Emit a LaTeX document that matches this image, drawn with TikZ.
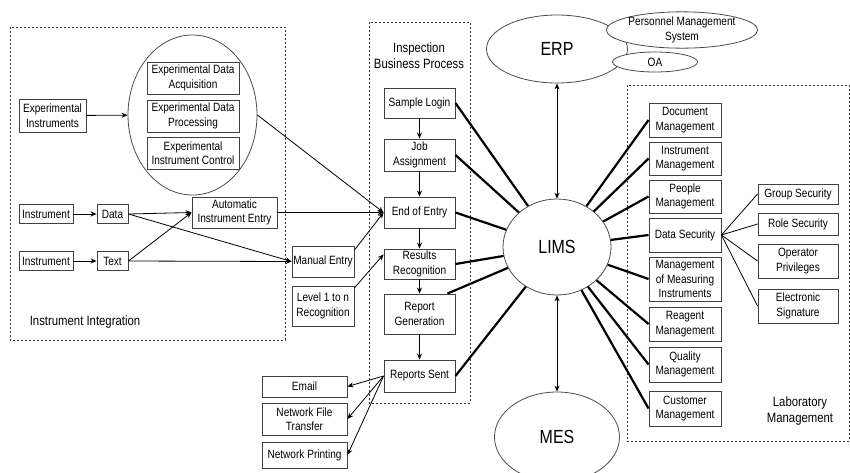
\documentclass[tikz,border=0pt]{standalone}
\usepackage{fontspec}
\setmainfont{Liberation Sans}[FakeStretch=0.84]
\usetikzlibrary{arrows.meta,shapes.geometric,calc}
\begin{document}
\begin{tikzpicture}[x=1pt,y=-1pt,
  box/.style={draw=black!75, line width=0.9pt, fill=white, rectangle, inner sep=0pt, align=center, font=\fontsize{12}{14.5}\selectfont},
  ell/.style={draw=black!70, line width=0.8pt, fill=white, ellipse, inner sep=0pt, align=center},
  arr/.style={draw=black, line width=0.8pt, -{Stealth[length=6pt,width=5pt]}},
  darr/.style={draw=black, line width=0.8pt, {Stealth[length=6pt,width=5pt]}-{Stealth[length=6pt,width=5pt]}},
  conn/.style={draw=black, line width=0.8pt},
  limsline/.style={draw=black, line width=2.2pt},
  grp/.style={draw=black!80, line width=0.8pt, dash pattern=on 2pt off 2pt},
  lbl/.style={font=\fontsize{13.5}{16}\selectfont, align=center, inner sep=0pt},
  big/.style={font=\fontsize{19}{22}\selectfont}
]
\useasboundingbox (0,0) rectangle (850,472);

% group frames
\draw[grp] (10,27) rectangle (285,340);
\draw[grp] (369,22) rectangle (470,403);
\draw[grp] (627,85) rectangle (849,441);
\node[lbl] (lblii) at (85,322) {Instrument Integration};
\node[lbl] (lblibp) at (419,56) {Inspection\\Business Process};
\node[lbl] (lbllab) at (800,411) {Laboratory\\Management};

% instrument integration
\node[ell, minimum width=129pt, minimum height=160pt] (bigell) at (192.5,115) {};
\node[box, minimum width=92pt, minimum height=32pt] (acq) at (193,78) {Experimental Data\\Acquisition};
\node[box, minimum width=92pt, minimum height=32pt] (proc) at (193,116) {Experimental Data\\Processing};
\node[box, minimum width=92pt, minimum height=32pt] (ctrl) at (193,153) {Experimental\\Instrument Control};
\node[box, minimum width=67pt, minimum height=33pt] (expinst) at (52.5,115.5) {Experimental\\Instruments};
\node[box, minimum width=54pt, minimum height=19pt] (inst1) at (46,214) {Instrument};
\node[box, minimum width=31pt, minimum height=19pt] (data) at (112.5,214) {Data};
\node[box, minimum width=54pt, minimum height=19pt] (inst2) at (46,261) {Instrument};
\node[box, minimum width=31pt, minimum height=19pt] (text) at (112.5,261) {Text};
\node[box, minimum width=85pt, minimum height=31pt] (aie) at (234.5,212.5) {Automatic\\Instrument Entry};
\node[box, minimum width=62pt, minimum height=31pt] (manual) at (323,261.5) {Manual Entry};
\node[box, minimum width=62pt, minimum height=40pt] (level) at (323,306) {Level 1 to n\\Recognition};

% inspection business process
\node[box, minimum width=71pt, minimum height=30pt] (sample) at (419.5,103) {Sample Login};
\node[box, minimum width=71pt, minimum height=32pt] (job) at (419.5,155) {Job\\Assignment};
\node[box, minimum width=71pt, minimum height=31pt] (eoe) at (419.5,212.5) {End of Entry};
\node[box, minimum width=71pt, minimum height=30pt] (results) at (419.5,264) {Results\\Recognition};
\node[box, minimum width=71pt, minimum height=40pt] (repgen) at (419.5,314) {Report\\Generation};
\node[box, minimum width=71pt, minimum height=32pt] (sent) at (419.5,376) {Reports Sent};
\node[box, minimum width=85pt, minimum height=21pt] (email) at (304.5,386.5) {Email};
\node[box, minimum width=85pt, minimum height=32pt] (nft) at (304.5,419) {Network File\\Transfer};
\node[box, minimum width=85pt, minimum height=26pt] (nprint) at (304.5,455) {Network Printing};

% systems
\node[ell, minimum width=141pt, minimum height=68pt, big] (erp) at (557,49) {ERP};
\node[ell, minimum width=140pt, minimum height=34pt, font=\fontsize{12}{14.5}\selectfont] (pms) at (682,30) {Personnel Management\\System};
\node[ell, minimum width=85pt, minimum height=20pt, font=\fontsize{12}{14.5}\selectfont] (oa) at (655,62) {OA};
\node[ell, minimum width=108pt, minimum height=96pt, big] (lims) at (557,247) {LIMS};
\node[ell, minimum width=125pt, minimum height=90pt, big] (mes) at (557,437) {MES};

% laboratory management
\node[box, minimum width=72pt, minimum height=34pt] (doc) at (685,120) {Document\\Management};
\node[box, minimum width=72pt, minimum height=33pt] (instm) at (685,158.5) {Instrument\\Management};
\node[box, minimum width=72pt, minimum height=33pt] (people) at (685,196.5) {People\\Management};
\node[box, minimum width=72pt, minimum height=34pt] (datasec) at (685,235) {Data Security};
\node[box, minimum width=72pt, minimum height=44pt] (meas) at (685,279) {Management\\of Measuring\\Instruments};
\node[box, minimum width=72pt, minimum height=34pt] (reagent) at (685,324) {Reagent\\Management};
\node[box, minimum width=72pt, minimum height=35pt] (quality) at (685,364.5) {Quality\\Management};
\node[box, minimum width=72pt, minimum height=35pt] (customer) at (685,408.5) {Customer\\Management};
\node[box, minimum width=80pt, minimum height=20pt] (group) at (798,194) {Group Security};
\node[box, minimum width=80pt, minimum height=22pt] (role) at (798,224) {Role Security};
\node[box, minimum width=80pt, minimum height=34pt] (oper) at (798,261) {Operator\\Privileges};
\node[box, minimum width=80pt, minimum height=34pt] (elec) at (798,306) {Electronic\\Signature};

% instrument integration connectors
\draw[arr] (expinst) -- (bigell);
\draw[arr] (inst1) -- (data);
\draw[arr] (inst2) -- (text);
\draw[arr] (data.east) -- (aie.west);
\draw[arr] (text.east) -- (aie.west);
\draw[arr] (data.east) -- (manual.west);
\draw[arr] (text.east) -- (manual.west);
\draw[arr] (bigell.east) -- (eoe.west);
\draw[arr] (aie.east) -- (eoe.west);
\draw[arr] (manual.20) -- (eoe.west);
\draw[arr] (level.30) -- (results.165);

% process chain
\draw[arr] (sample) -- (job);
\draw[arr] (job) -- (eoe);
\draw[arr] (eoe) -- (results);
\draw[arr] (results) -- (repgen);
\draw[arr] (repgen) -- (sent);
\draw[arr] (sent.west) -- (email.east);
\draw[arr] (sent.west) -- (nft.east);
\draw[arr] (sent.west) -- (nprint.east);

% systems links
\draw[darr] (erp) -- (lims);
\draw[darr] (lims) -- (mes);

% LIMS spokes
\draw[limsline] (lims) -- (sample.east);
\draw[limsline] (lims) -- (job.east);
\draw[limsline] (lims) -- (eoe.east);
\draw[limsline] (lims) -- (results.east);
\draw[limsline] (lims) -- ($(repgen.north east)+(-8,0)$);
\draw[limsline] (lims) -- (sent.east);
\draw[limsline] (lims) -- (doc.west);
\draw[limsline] (lims) -- (instm.west);
\draw[limsline] (lims) -- (people.west);
\draw[limsline] (lims) -- (datasec.west);
\draw[limsline] (lims) -- (meas.west);
\draw[limsline] (lims) -- (reagent.west);
\draw[limsline] (lims) -- (quality.west);
\draw[limsline] (lims) -- (customer.west);

% data security details
\draw[conn] (datasec.east) -- (group.west);
\draw[conn] (datasec.east) -- (role.west);
\draw[conn] (datasec.east) -- (oper.west);
\draw[conn] (datasec.east) -- (elec.west);
\end{tikzpicture}
\end{document}
